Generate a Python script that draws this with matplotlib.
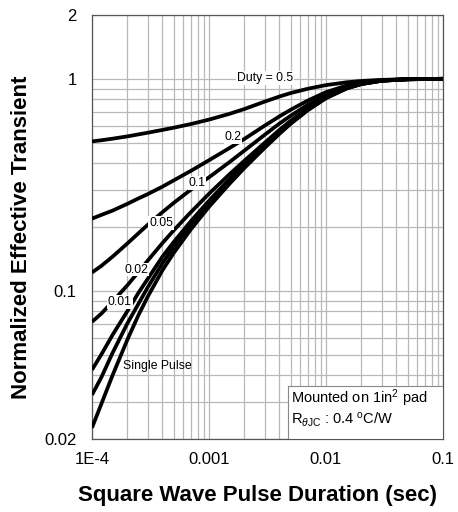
import matplotlib
matplotlib.use("Agg")
import matplotlib.pyplot as plt
from matplotlib.patches import Rectangle

plt.rcParams['font.family'] = ['Liberation Sans', 'DejaVu Sans']
plt.rcParams['mathtext.fontset'] = 'custom'
plt.rcParams['mathtext.rm'] = 'Liberation Sans'
plt.rcParams['mathtext.it'] = 'Liberation Sans:italic'

# ---------------------------------------------------------------
# data (pulse duration in sec)
# ---------------------------------------------------------------
duration = [1e-4, 1.2e-4, 1.5e-4, 2e-4, 2.5e-4, 3e-4, 4e-4, 5e-4, 7e-4,
            1e-3, 1.5e-3, 2e-3, 3e-3, 4e-3, 5e-3, 7e-3,
            1e-2, 1.5e-2, 2e-2, 3e-2, 5e-2, 1e-1]

duty_05 = [0.507, 0.513, 0.522, 0.535, 0.547, 0.557, 0.574, 0.588, 0.612,
           0.642, 0.684, 0.72, 0.781, 0.825, 0.857, 0.898,
           0.934, 0.963, 0.977, 0.989, 0.996, 1.0]
duty_02 = [0.219, 0.228, 0.239, 0.257, 0.273, 0.286, 0.31, 0.332, 0.368,
           0.413, 0.472, 0.52, 0.602, 0.665, 0.715, 0.79,
           0.865, 0.93, 0.96, 0.985, 0.997, 1.0]
duty_01 = [0.122, 0.131, 0.145, 0.167, 0.187, 0.205, 0.235, 0.26, 0.30,
           0.343, 0.405, 0.458, 0.545, 0.615, 0.67, 0.755,
           0.84, 0.915, 0.952, 0.982, 0.996, 1.0]
duty_005 = [0.0714, 0.078, 0.089, 0.106, 0.123, 0.139, 0.168, 0.193, 0.235,
            0.287, 0.355, 0.41, 0.50, 0.574, 0.635, 0.727,
            0.82, 0.906, 0.947, 0.98, 0.995, 1.0]
duty_002 = [0.0424, 0.050, 0.062, 0.080, 0.098, 0.114, 0.145, 0.170, 0.213,
            0.266, 0.337, 0.395, 0.487, 0.562, 0.625, 0.72,
            0.816, 0.904, 0.946, 0.98, 0.995, 1.0]
duty_001 = [0.0323, 0.039, 0.051, 0.070, 0.087, 0.104, 0.135, 0.161, 0.205,
            0.258, 0.33, 0.388, 0.481, 0.557, 0.62, 0.716,
            0.813, 0.902, 0.945, 0.98, 0.995, 1.0]
single_pulse = [0.0226, 0.0292, 0.040, 0.0586, 0.077, 0.094, 0.125, 0.151, 0.195,
                0.249, 0.32, 0.379, 0.473, 0.55, 0.614, 0.711,
                0.81, 0.90, 0.944, 0.98, 0.995, 1.0]

curves = [duty_05, duty_02, duty_01, duty_005, duty_002, duty_001, single_pulse]

# curve labels and where they sit on the chart (data coords)
label_text = ["Duty = 0.5", "0.2", "0.1", "0.05", "0.02", "0.01", "Single Pulse"]
label_x = [3.0e-3, 1.6e-3, 7.9e-4, 3.9e-4, 2.38e-4, 1.73e-4, 3.6e-4]
label_y = [1.01, 0.533, 0.322, 0.209, 0.126, 0.0886, 0.0444]

x_ticks = [1e-4, 1e-3, 1e-2, 1e-1]
x_ticklabels = ["1E-4", "0.001", "0.01", "0.1"]
y_ticks = [0.02, 0.1, 1, 2]
y_ticklabels = ["0.02", "0.1", "1", "2"]
x_minor = [m * d for d in (1e-4, 1e-3, 1e-2) for m in range(2, 10)]
y_minor = [m * d for d in (0.01, 0.1) for m in range(2, 10) if m * d > 0.02]

#######################################################################################
fig = plt.figure(figsize=(4.58, 5.12), dpi=100)
ax = fig.add_axes([92 / 458, 1 - 439 / 512, 351 / 458, 424 / 512])
ax.set_xscale("log")
ax.set_yscale("log")
ax.set_xlim(1e-4, 1e-1)
ax.set_ylim(0.02, 2)

ax.set_xticks(x_ticks)
ax.set_xticklabels(x_ticklabels)
ax.set_xticks(x_minor, minor=True)
ax.set_xticklabels([], minor=True)
ax.set_yticks(y_ticks)
ax.set_yticklabels(y_ticklabels)
ax.set_yticks(y_minor, minor=True)
ax.set_yticklabels([], minor=True)
ax.tick_params(which="both", length=0, labelsize=12)
ax.tick_params(axis="x", pad=9)
ax.tick_params(axis="y", pad=11)

ax.grid(which="both", color="#b8b8b8", linewidth=0.9)
ax.set_axisbelow(True)
for sp in ax.spines.values():
    sp.set_color("#555555")
    sp.set_linewidth(0.9)

for c in curves:
    ax.plot(duration, c, color="black", linewidth=2.7,
            solid_capstyle="butt", solid_joinstyle="round", zorder=3)

for t, lx, ly in zip(label_text, label_x, label_y):
    if t == "Single Pulse":
        bb = None
    else:
        bb = dict(facecolor="white", edgecolor="none", pad=0.6)
    ax.text(lx, ly, t, fontsize=8.8, ha="center", va="center", bbox=bb, zorder=4)

# mounting note in the lower right corner
ax.add_patch(Rectangle((0.558, 0.0), 0.442, 0.125, transform=ax.transAxes,
                       facecolor="white", edgecolor="#888888", linewidth=0.8, zorder=4))
ax.text(0.567, 0.097, r"Mounted on 1in$^2$ pad", transform=ax.transAxes,
        fontsize=10.5, ha="left", va="center", zorder=5)
ax.text(0.567, 0.045, r"R$_{\theta\rm JC}$ : 0.4 $^{\rm o}$C/W", transform=ax.transAxes,
        fontsize=10.5, ha="left", va="center", zorder=5)

fig.text(258 / 458, 1 - 496 / 512, "Square Wave Pulse Duration (sec)",
         fontsize=16, fontweight="bold", ha="center", va="center")
fig.text(22 / 458, 1 - 237 / 512, "Normalized Effective Transient",
         fontsize=16, fontweight="bold", ha="center", va="center", rotation=90)

fig.savefig("out.png", dpi=100, facecolor="white")
